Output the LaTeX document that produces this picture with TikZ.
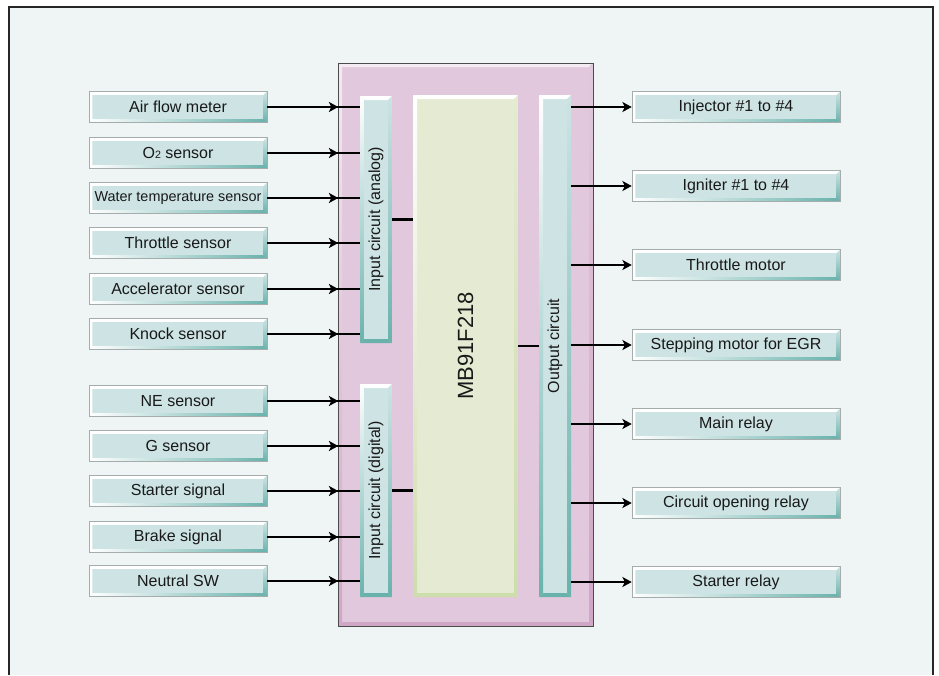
\documentclass[tikz,border=0pt]{standalone}
\usepackage{fontspec}
\setmainfont{Liberation Sans}
\usetikzlibrary{arrows.meta,decorations.markings}
\definecolor{pagebg}{RGB}{239,245,245}
\definecolor{boxface}{RGB}{205,227,228}
\definecolor{boxteal}{RGB}{105,178,172}
\definecolor{boxline}{RGB}{165,172,172}
\definecolor{boardpink}{RGB}{226,200,220}
\definecolor{boardlight}{RGB}{244,234,241}
\definecolor{boarddark}{RGB}{208,166,198}
\definecolor{chipface}{RGB}{229,235,211}
\definecolor{chipedge}{RGB}{205,221,172}
\definecolor{textdark}{RGB}{25,25,25}
\tikzset{
  % raised box, shading runs left to right along the bottom
  raised/.style n args={3}{fill=#1, inner sep=0pt, path picture={
    \path (path picture bounding box.south west) coordinate (pp-sw)
          (path picture bounding box.north east) coordinate (pp-ne);
    \path (pp-sw |- pp-ne) coordinate (pp-nw) (pp-ne |- pp-sw) coordinate (pp-se);
    \fill[#2] (pp-sw) -- (pp-nw) -- (pp-ne) -- ([shift={(-2.5pt,-2.5pt)}]pp-ne)
      -- ([shift={(2.5pt,-2.5pt)}]pp-nw) -- ([shift={(2.5pt,2.5pt)}]pp-sw) -- cycle;
    \shade[top color=#1, bottom color=#3] (pp-ne) -- (pp-se)
      -- ([shift={(-2.5pt,2.5pt)}]pp-se) -- ([shift={(-2.5pt,-2.5pt)}]pp-ne) -- cycle;
    \shade[left color=#2, right color=#3] (pp-sw) -- (pp-se)
      -- ([shift={(-2.5pt,2.5pt)}]pp-se) -- ([shift={(2.5pt,2.5pt)}]pp-sw) -- cycle;
  }},
  % raised bar, shading runs top to bottom along the sides
  raisedbar/.style n args={3}{fill=#1, inner sep=0pt, path picture={
    \path (path picture bounding box.south west) coordinate (pp-sw)
          (path picture bounding box.north east) coordinate (pp-ne);
    \path (pp-sw |- pp-ne) coordinate (pp-nw) (pp-ne |- pp-sw) coordinate (pp-se);
    \fill[#2] (pp-nw) -- (pp-ne) -- ([shift={(-3pt,-3pt)}]pp-ne)
      -- ([shift={(3pt,-3pt)}]pp-nw) -- cycle;
    \shade[top color=#2, bottom color=#3] (pp-nw) -- ([shift={(3pt,-3pt)}]pp-nw)
      -- ([shift={(3pt,3pt)}]pp-sw) -- (pp-sw) -- cycle;
    \shade[top color=#1, bottom color=#3] (pp-ne) -- (pp-se)
      -- ([shift={(-3pt,3pt)}]pp-se) -- ([shift={(-3pt,-3pt)}]pp-ne) -- cycle;
    \fill[#3] (pp-sw) -- (pp-se) -- ([shift={(-3pt,3pt)}]pp-se)
      -- ([shift={(3pt,3pt)}]pp-sw) -- cycle;
  }},
  sensor/.style={raised={boxface}{white}{boxteal}, draw=boxline, line width=0.4pt,
    minimum width=133.5pt, minimum height=23.25pt},
  actuator/.style={raised={boxface}{white}{boxteal}, draw=boxline, line width=0.4pt,
    minimum width=156pt, minimum height=23.25pt},
  circuitbar/.style={raisedbar={boxface}{white}{boxteal}, minimum width=24pt},
  wire/.style={line width=1.6pt, black},
  tip/.style={-{Stealth[length=7pt,width=7.5pt,inset=1.8pt]}},
  inwire/.style={wire, postaction={decorate}, decoration={markings,
    mark=at position 53.25pt with {\arrow{Stealth[length=7pt,width=7.5pt,inset=1.8pt]}}}}
}
\begin{document}
\begin{tikzpicture}[x=0.75pt, y=-0.75pt, every node/.style={font=\fontsize{12}{14}\selectfont, text=textdark}]
  \useasboundingbox (0,0) rectangle (939,675);
  % page and frame
  \fill[white] (0,0) rectangle (939,675);
  \fill[pagebg] (9,7) rectangle (933,675);
  \draw[line width=1pt, black!85] (9,675) -- (9,7) -- (933,7) -- (933,675);
  % controller board
  \node[raisedbar={boardpink}{boardlight}{boarddark}, draw=gray!60!black, line width=0.5pt,
    minimum width=191.25pt, minimum height=422.25pt] (ecu) at (465.5,344.5) {};
  \node[raisedbar={chipface}{white}{chipedge}, minimum width=78.75pt, minimum height=376.5pt] (chip) at (465.5,346) {};
  \node[circuitbar, minimum height=185.25pt] (ana) at (376,219.5) {};
  \node[circuitbar, minimum height=159.75pt] (dig) at (376,490.5) {};
  \node[circuitbar, minimum height=376.5pt] (out) at (555,346) {};
  % bar labels
  \node[rotate=90, font=\fontsize{16.5}{18}\selectfont] (chiplbl) at (chip) {MB91F218};
  \node[rotate=90] (analbl) at (ana) {Input circuit (analog)};
  \node[rotate=90] (diglbl) at (dig) {Input circuit (digital)};
  \node[rotate=90] (outlbl) at (out) {Output circuit};
  % sensors
  \node[sensor] (afm) at (178,107) {Air flow meter};
  \node[sensor] (oxy) at (178,153) {O{\fontsize{8}{8}\selectfont 2} sensor};
  \node[sensor, font=\fontsize{10.8}{13}\selectfont] (wts) at (178,198) {Water temperature sensor};
  \node[sensor] (ths) at (178,243) {Throttle sensor};
  \node[sensor] (acc) at (178,289) {Accelerator sensor};
  \node[sensor] (kns) at (178,334) {Knock sensor};
  \node[sensor] (nes) at (178,401) {NE sensor};
  \node[sensor] (gse) at (178,446) {G sensor};
  \node[sensor] (sts) at (178,491) {Starter signal};
  \node[sensor] (brk) at (178,537) {Brake signal};
  \node[sensor] (ntr) at (178,581) {Neutral SW};
  % actuators
  \node[actuator] (inj) at (736,107) {Injector \#1 to \#4};
  \node[actuator] (ign) at (736,186) {Igniter \#1 to \#4};
  \node[actuator] (thm) at (736,265) {Throttle motor};
  \node[actuator] (egr) at (736,345) {Stepping motor for EGR};
  \node[actuator] (mrl) at (736,424) {Main relay};
  \node[actuator] (cor) at (736,503) {Circuit opening relay};
  \node[actuator] (srl) at (736,582) {Starter relay};
  % sensor inputs
  \draw[inwire] (afm.east) -- (afm.east -| ana.west);
  \draw[inwire] (oxy.east) -- (oxy.east -| ana.west);
  \draw[inwire] (wts.east) -- (wts.east -| ana.west);
  \draw[inwire] (ths.east) -- (ths.east -| ana.west);
  \draw[inwire] (acc.east) -- (acc.east -| ana.west);
  \draw[inwire] (kns.east) -- (kns.east -| ana.west);
  \draw[inwire] (nes.east) -- (nes.east -| dig.west);
  \draw[inwire] (gse.east) -- (gse.east -| dig.west);
  \draw[inwire] (sts.east) -- (sts.east -| dig.west);
  \draw[inwire] (brk.east) -- (brk.east -| dig.west);
  \draw[inwire] (ntr.east) -- (ntr.east -| dig.west);
  % internal links
  \draw[wire] (ana.east) -- (ana.east -| chip.west);
  \draw[wire] (dig.east) -- (dig.east -| chip.west);
  \draw[wire] (chip.east) -- (out.west);
  % actuator outputs
  \draw[wire, tip] (inj.west -| out.east) -- (inj.west);
  \draw[wire, tip] (ign.west -| out.east) -- (ign.west);
  \draw[wire, tip] (thm.west -| out.east) -- (thm.west);
  \draw[wire, tip] (egr.west -| out.east) -- (egr.west);
  \draw[wire, tip] (mrl.west -| out.east) -- (mrl.west);
  \draw[wire, tip] (cor.west -| out.east) -- (cor.west);
  \draw[wire, tip] (srl.west -| out.east) -- (srl.west);
\end{tikzpicture}
\end{document}
